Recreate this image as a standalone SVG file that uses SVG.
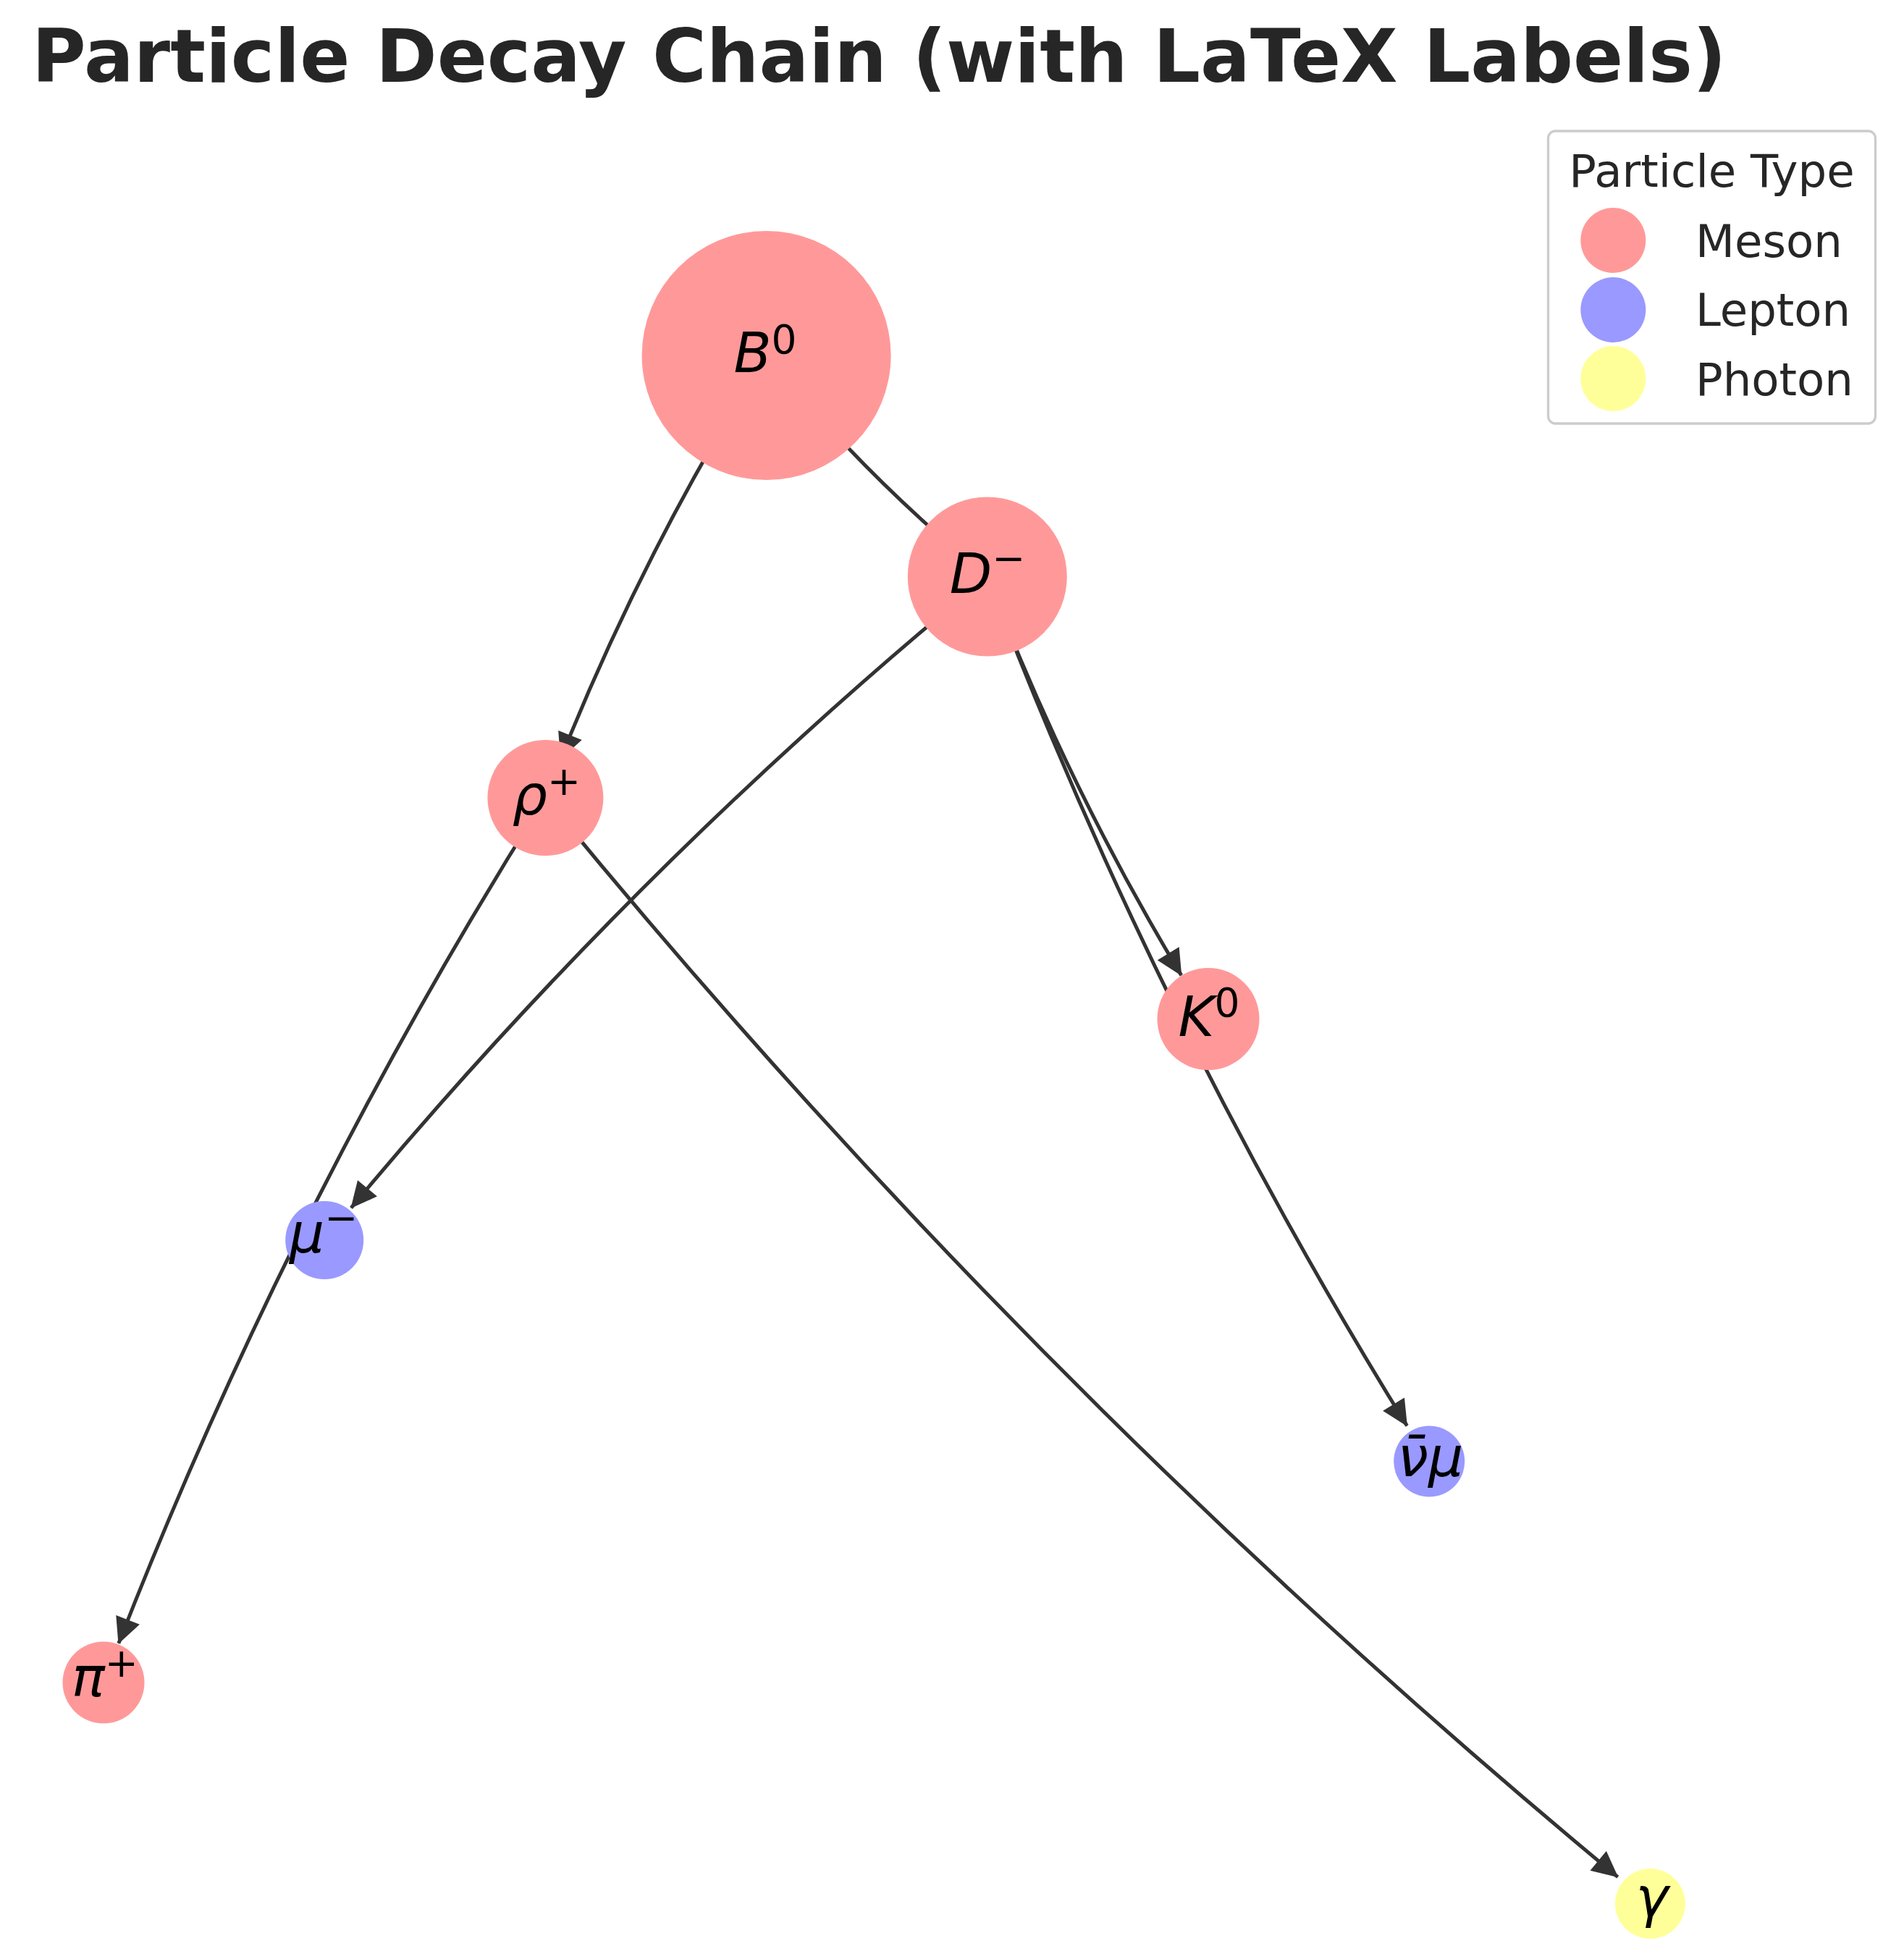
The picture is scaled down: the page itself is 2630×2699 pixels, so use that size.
<svg xmlns="http://www.w3.org/2000/svg" width="2630" height="2699" viewBox="0 0 2630 2699">
<style>
.edge{fill:none;stroke:#333333;stroke-width:5;marker-end:url(#arr)}
.meson{fill:#ff9999}
.lepton{fill:#9999ff}
.photon{fill:#ffff99}
.lbl{font-family:"DejaVu Sans",sans-serif;font-size:76px;font-style:italic;fill:#000;text-anchor:middle}
.sup{font-size:55px;font-style:normal}
.title{font-family:"DejaVu Sans",sans-serif;font-size:102px;font-weight:bold;fill:#262626}
.leg{font-family:"DejaVu Sans",sans-serif;font-size:62.5px;fill:#262626}
</style>
<defs>
<marker id="arr" markerUnits="userSpaceOnUse" markerWidth="44" markerHeight="44" viewBox="-40 -22 44 44" refX="0" refY="0" orient="auto">
<path d="M1,0 L-35,-17.5 L-35,17.5 Z" fill="#333333"/>
</marker>
</defs>
<rect width="2630" height="2699" fill="#ffffff"/>
<text class="title" x="44" y="113">Particle Decay Chain (with LaTeX Labels)</text>
<g id="edges">
<path class="edge" d="M1058.6,491 Q1177.5,636.5 1319.36,759.11"/>
<path class="edge" d="M1058.6,491 Q890.93,756.71 774.46,1048.01"/>
<path class="edge" d="M1363.8,796.5 Q1473.23,1084.08 1631.77,1347.13"/>
<path class="edge" d="M1363.8,796.5 Q882.62,1190.59 485.09,1668.28"/>
<path class="edge" d="M1363.8,796.5 Q1597.59,1410.92 1943.47,1969.35"/>
<path class="edge" d="M753.4,1102 Q402.58,1657.95 163.85,2269.91"/>
<path class="edge" d="M753.4,1102 Q1421.68,1919.6 2234.63,2592.64"/>
</g>
<g id="node-B0"><circle class="meson" cx="1058.6" cy="491" r="172"/><text class="lbl" x="1057" y="514">B<tspan class="sup" dy="-26">0</tspan></text></g>
<g id="node-Dminus"><circle class="meson" cx="1363.8" cy="796.5" r="110"/><text class="lbl" x="1364" y="819">D<tspan class="sup" dy="-29">−</tspan></text></g>
<g id="node-rhoplus"><circle class="meson" cx="753.4" cy="1102" r="80"/><text class="lbl" x="755" y="1125">ρ<tspan class="sup" dy="-27">+</tspan></text></g>
<g id="node-K0"><circle class="meson" cx="1669" cy="1407.5" r="70.5"/><text class="lbl" x="1670" y="1431">K<tspan class="sup" dy="-27">0</tspan></text></g>
<g id="node-muminus"><circle class="lepton" cx="448.2" cy="1713" r="54"/><text class="lbl" x="447" y="1730">μ<tspan class="sup" dy="-29">−</tspan></text></g>
<g id="node-nubarmu"><circle class="lepton" cx="1974.2" cy="2018.5" r="49"/><text class="lbl" x="1976" y="2039">ν̄μ</text></g>
<g id="node-piplus"><circle class="meson" cx="143" cy="2324" r="56.5"/><text class="lbl" x="145" y="2343">π<tspan class="sup" dy="-27">+</tspan></text></g>
<g id="node-gamma"><circle class="photon" cx="2279.4" cy="2629.5" r="48.5"/><text class="lbl" x="2282" y="2647">γ</text></g>
<g id="legend">
<rect x="2138.5" y="181" width="452" height="404" rx="10" ry="10" fill="#ffffff" fill-opacity="0.8" stroke="#cccccc" stroke-width="3.3"/>
<text class="leg" x="2364.5" y="258" text-anchor="middle">Particle Type</text>
<circle class="meson" cx="2228.3" cy="332" r="45"/>
<text class="leg" x="2342" y="355">Meson</text>
<circle class="lepton" cx="2228.3" cy="428" r="45"/>
<text class="leg" x="2342" y="450">Lepton</text>
<circle class="photon" cx="2228.3" cy="523" r="45"/>
<text class="leg" x="2342" y="546">Photon</text>
</g>
</svg>
